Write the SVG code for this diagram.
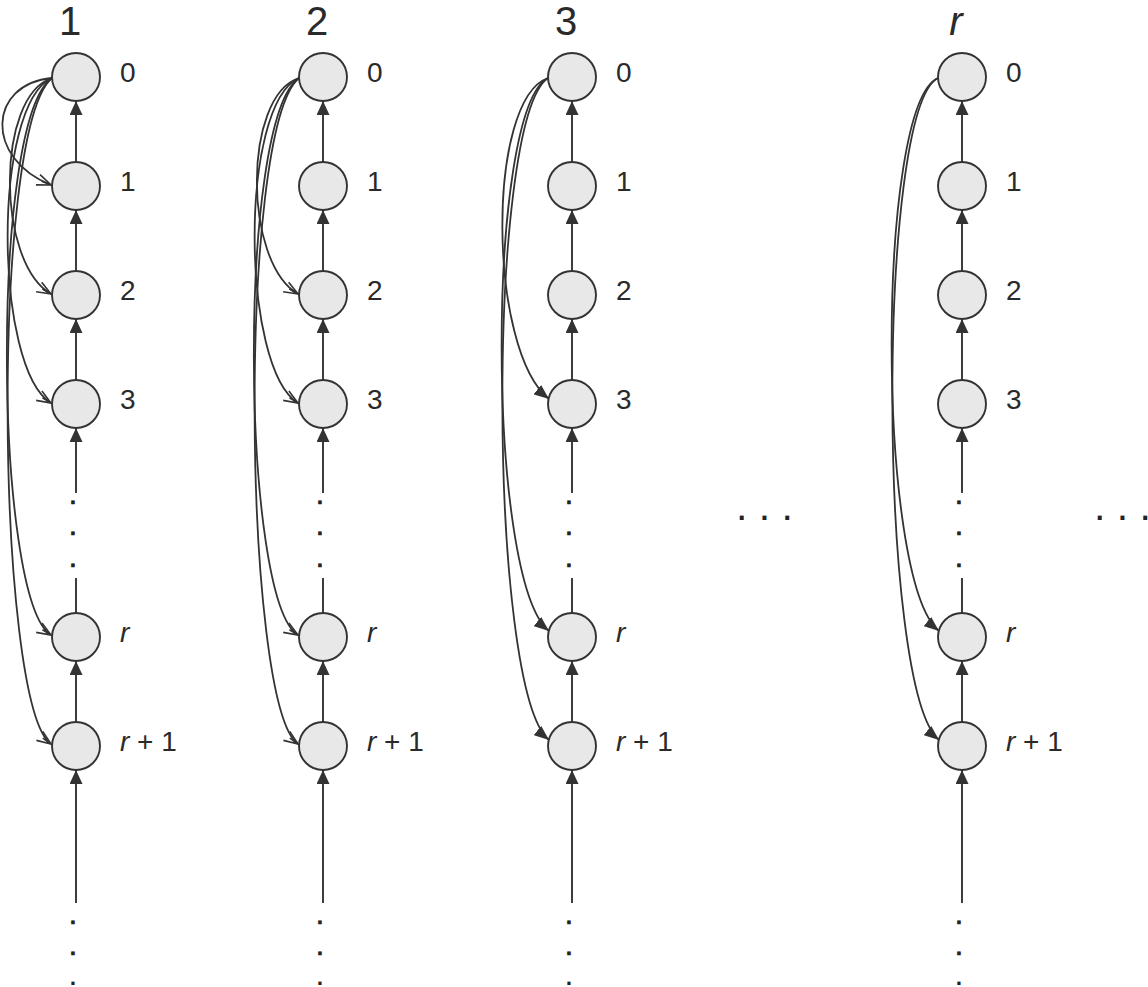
<svg xmlns="http://www.w3.org/2000/svg" width="1148" height="987" viewBox="0 0 1148 987">
<style>
.node{fill:#e8e8e8;stroke:#333;stroke-width:1.9}
.lbl{font-family:"Liberation Sans",Arial,sans-serif;font-size:28px;fill:#2a2a2a}
.ttl{font-family:"Liberation Sans",Arial,sans-serif;font-size:40px;fill:#2a2a2a;text-anchor:middle}
.dot{font-family:"Liberation Sans",Arial,sans-serif;font-size:30px;fill:#222;stroke:#222;stroke-width:0.7;text-anchor:middle}
.dots{font-family:"Liberation Sans",Arial,sans-serif;font-size:12px;fill:#222;stroke:#222;stroke-width:2;text-anchor:middle}
.ell{font-family:"Liberation Sans",Arial,sans-serif;font-size:41px;fill:#222}
.v{stroke:#333;stroke-width:1.9;fill:none}
.vm{marker-end:url(#tri)}
.co{stroke:#333;stroke-width:1.8;fill:none;marker-end:url(#open)}
.cf{stroke:#333;stroke-width:1.8;fill:none;marker-end:url(#tri2)}
</style>
<defs>
<marker id="tri" viewBox="0 0 14 13" refX="14" refY="6.5" markerWidth="14" markerHeight="13" markerUnits="userSpaceOnUse" orient="auto"><path d="M0,0 L14,6.5 L0,13 z" fill="#333"/></marker>
<marker id="tri2" viewBox="0 0 15 12" refX="15" refY="6" markerWidth="15" markerHeight="12" markerUnits="userSpaceOnUse" orient="auto"><path d="M0,0 L15,6 L0,12 z" fill="#333"/></marker>
<marker id="open" viewBox="0 0 16 13" refX="15" refY="6.5" markerWidth="16" markerHeight="13" markerUnits="userSpaceOnUse" orient="auto"><path d="M1,1 L15,6.5 L1,12 M15,6.5 L5,6.5" fill="none" stroke="#333" stroke-width="1.6"/></marker>
</defs>

<g id="titles">
<text class="ttl" x="70" y="35">1</text>
<text class="ttl" x="317" y="35">2</text>
<text class="ttl" x="566" y="35">3</text>
<text class="ttl" x="956" y="35" font-style="italic">r</text>
</g>

<g id="connectors">
<!-- column 1 vertical -->
<line class="v vm" x1="76" y1="162" x2="76" y2="101"/>
<line class="v vm" x1="76" y1="271" x2="76" y2="210"/>
<line class="v vm" x1="76" y1="380" x2="76" y2="319"/>
<line class="v vm" x1="76" y1="493" x2="76" y2="428"/>
<line class="v" x1="76" y1="578" x2="76" y2="613"/>
<line class="v vm" x1="76" y1="722" x2="76" y2="661"/>
<line class="v vm" x1="76" y1="903" x2="76" y2="770"/>
<!-- column 2 vertical -->
<line class="v vm" x1="323" y1="162" x2="323" y2="101"/>
<line class="v vm" x1="323" y1="271" x2="323" y2="210"/>
<line class="v vm" x1="323" y1="380" x2="323" y2="319"/>
<line class="v vm" x1="323" y1="493" x2="323" y2="428"/>
<line class="v" x1="323" y1="578" x2="323" y2="613"/>
<line class="v vm" x1="323" y1="722" x2="323" y2="661"/>
<line class="v vm" x1="323" y1="903" x2="323" y2="770"/>
<!-- column 3 vertical -->
<line class="v vm" x1="572" y1="162" x2="572" y2="101"/>
<line class="v vm" x1="572" y1="271" x2="572" y2="210"/>
<line class="v vm" x1="572" y1="380" x2="572" y2="319"/>
<line class="v vm" x1="572" y1="493" x2="572" y2="428"/>
<line class="v" x1="572" y1="578" x2="572" y2="613"/>
<line class="v vm" x1="572" y1="722" x2="572" y2="661"/>
<line class="v vm" x1="572" y1="903" x2="572" y2="770"/>
<!-- column r vertical -->
<line class="v vm" x1="962" y1="162" x2="962" y2="101"/>
<line class="v vm" x1="962" y1="271" x2="962" y2="210"/>
<line class="v vm" x1="962" y1="380" x2="962" y2="319"/>
<line class="v vm" x1="962" y1="493" x2="962" y2="428"/>
<line class="v" x1="962" y1="578" x2="962" y2="613"/>
<line class="v vm" x1="962" y1="722" x2="962" y2="661"/>
<line class="v vm" x1="962" y1="903" x2="962" y2="770"/>

<!-- column 1 curves -->
<path class="co" d="M52,78 C-12,84 -16,158 51,185"/>
<path class="co" d="M52,78 C-4,96 -4,262 51,294"/>
<path class="co" d="M52,78 C-8,105 -6,368 51,403"/>
<path class="co" d="M52,78 C-10,120 -6,600 51,635"/>
<path class="co" d="M52,78 C-10,130 -4,705 51,744"/>
<!-- column 2 curves -->
<path class="co" d="M299,78 C243,96 243,262 298,294"/>
<path class="co" d="M299,78 C239,105 241,368 298,403"/>
<path class="co" d="M299,78 C237,120 241,600 298,635"/>
<path class="co" d="M299,78 C237,130 243,705 298,744"/>
<!-- column 3 curves -->
<path class="cf" d="M548,78 C486,100 488,350 549,399"/>
<path class="cf" d="M548,78 C486,110 486,580 549,631"/>
<path class="cf" d="M548,78 C486,120 488,690 549,740"/>
<!-- column r curves -->
<path class="cf" d="M938,78 C876,105 876,580 939,631"/>
<path class="cf" d="M938,78 C876,110 878,690 939,740"/>
</g>

<g id="c1">
<g id="c1-n0"><circle class="node" cx="76" cy="77" r="24"/><text class="lbl" x="120" y="82">0</text></g>
<g id="c1-n1"><circle class="node" cx="76" cy="186" r="24"/><text class="lbl" x="120" y="191">1</text></g>
<g id="c1-n2"><circle class="node" cx="76" cy="295" r="24"/><text class="lbl" x="120" y="300">2</text></g>
<g id="c1-n3"><circle class="node" cx="76" cy="404" r="24"/><text class="lbl" x="120" y="409">3</text></g>
<g id="c1-nr"><circle class="node" cx="76" cy="637" r="24"/><text class="lbl" x="120" y="642"><tspan font-style="italic">r</tspan></text></g>
<g id="c1-nr1"><circle class="node" cx="76" cy="746" r="24"/><text class="lbl" x="120" y="751"><tspan font-style="italic">r</tspan> + 1</text></g>
<g id="c1-dots"><text class="dot" x="73" y="504">.</text><text class="dot" x="73" y="535">.</text><text class="dot" x="73" y="567">.</text><text class="dot" x="73" y="924">.</text><text class="dot" x="73" y="955">.</text><text class="dots" x="73" y="984">.</text></g>
</g>

<g id="c2">
<g id="c2-n0"><circle class="node" cx="323" cy="77" r="24"/><text class="lbl" x="367" y="82">0</text></g>
<g id="c2-n1"><circle class="node" cx="323" cy="186" r="24"/><text class="lbl" x="367" y="191">1</text></g>
<g id="c2-n2"><circle class="node" cx="323" cy="295" r="24"/><text class="lbl" x="367" y="300">2</text></g>
<g id="c2-n3"><circle class="node" cx="323" cy="404" r="24"/><text class="lbl" x="367" y="409">3</text></g>
<g id="c2-nr"><circle class="node" cx="323" cy="637" r="24"/><text class="lbl" x="367" y="642"><tspan font-style="italic">r</tspan></text></g>
<g id="c2-nr1"><circle class="node" cx="323" cy="746" r="24"/><text class="lbl" x="367" y="751"><tspan font-style="italic">r</tspan> + 1</text></g>
<g id="c2-dots"><text class="dot" x="320" y="504">.</text><text class="dot" x="320" y="535">.</text><text class="dot" x="320" y="567">.</text><text class="dot" x="320" y="924">.</text><text class="dot" x="320" y="955">.</text><text class="dots" x="320" y="984">.</text></g>
</g>

<g id="c3">
<g id="c3-n0"><circle class="node" cx="572" cy="77" r="24"/><text class="lbl" x="616" y="82">0</text></g>
<g id="c3-n1"><circle class="node" cx="572" cy="186" r="24"/><text class="lbl" x="616" y="191">1</text></g>
<g id="c3-n2"><circle class="node" cx="572" cy="295" r="24"/><text class="lbl" x="616" y="300">2</text></g>
<g id="c3-n3"><circle class="node" cx="572" cy="404" r="24"/><text class="lbl" x="616" y="409">3</text></g>
<g id="c3-nr"><circle class="node" cx="572" cy="637" r="24"/><text class="lbl" x="616" y="642"><tspan font-style="italic">r</tspan></text></g>
<g id="c3-nr1"><circle class="node" cx="572" cy="746" r="24"/><text class="lbl" x="616" y="751"><tspan font-style="italic">r</tspan> + 1</text></g>
<g id="c3-dots"><text class="dot" x="569" y="504">.</text><text class="dot" x="569" y="535">.</text><text class="dot" x="569" y="567">.</text><text class="dot" x="569" y="924">.</text><text class="dot" x="569" y="955">.</text><text class="dots" x="569" y="984">.</text></g>
</g>

<g id="cr">
<g id="cr-n0"><circle class="node" cx="962" cy="77" r="24"/><text class="lbl" x="1006" y="82">0</text></g>
<g id="cr-n1"><circle class="node" cx="962" cy="186" r="24"/><text class="lbl" x="1006" y="191">1</text></g>
<g id="cr-n2"><circle class="node" cx="962" cy="295" r="24"/><text class="lbl" x="1006" y="300">2</text></g>
<g id="cr-n3"><circle class="node" cx="962" cy="404" r="24"/><text class="lbl" x="1006" y="409">3</text></g>
<g id="cr-nr"><circle class="node" cx="962" cy="637" r="24"/><text class="lbl" x="1006" y="642"><tspan font-style="italic">r</tspan></text></g>
<g id="cr-nr1"><circle class="node" cx="962" cy="746" r="24"/><text class="lbl" x="1006" y="751"><tspan font-style="italic">r</tspan> + 1</text></g>
<g id="cr-dots"><text class="dot" x="959" y="504">.</text><text class="dot" x="959" y="535">.</text><text class="dot" x="959" y="567">.</text><text class="dot" x="959" y="924">.</text><text class="dot" x="959" y="955">.</text><text class="dots" x="959" y="984">.</text></g>
</g>

<g id="ellipses">
<text class="ell" x="736" y="520">. . .</text>
<text class="ell" x="1094" y="520">. . .</text>
</g>
</svg>
